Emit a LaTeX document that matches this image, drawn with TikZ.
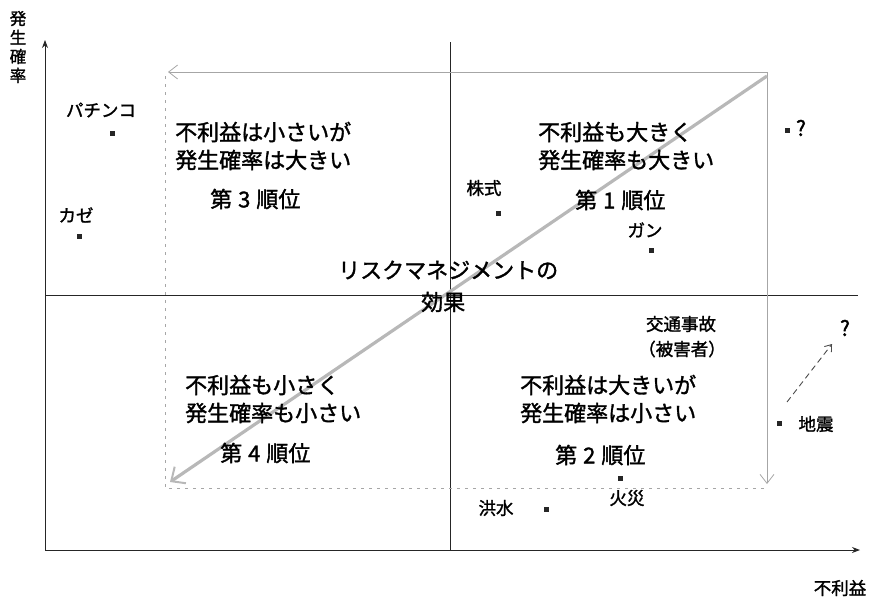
\documentclass[tikz,border=0pt]{standalone}
\usepackage{fontspec}
\newfontfamily\jpb{Noto Sans CJK JP}[FakeBold=1.5]
\usetikzlibrary{arrows.meta}
\begin{document}
\begin{tikzpicture}[x=1pt,y=-1pt,
  big/.style={font=\jpb\fontsize{22}{26}\selectfont, inner sep=0, anchor=west},
  rank/.style={font=\jpb\fontsize{22}{26}\selectfont, inner sep=0, anchor=west},
  lab/.style={font=\jpb\fontsize{17.5}{19}\selectfont, inner sep=0},
  qmark/.style={font=\jpb\fontsize{21}{22}\selectfont, inner sep=0},
  dot/.style={rectangle, fill=black!85, minimum size=5pt, inner sep=0},
  axis/.style={draw=black!85, line width=0.9pt},
  guide/.style={draw=black!35, line width=0.8pt, dash pattern=on 3pt off 5pt},
  guidearrow/.style={draw=black!35, line width=0.8pt, -{Straight Barb[length=9pt,width=14pt]}},
  effect/.style={draw=black!28, line width=3.2pt, -{Straight Barb[length=11pt,width=20pt,line width=2pt]}}
]
\useasboundingbox (0,0) rectangle (872,600);
% coordinates
\coordinate (o) at (45,550);
\coordinate (ytop) at (45,40);
\coordinate (xend) at (860,550);
\coordinate (vt) at (450,42);
\coordinate (vb) at (450,550);
\coordinate (hl) at (45,295);
\coordinate (hr) at (858,295);
\coordinate (rtr) at (767,72);
\coordinate (rtl) at (168,72);
\coordinate (rbr) at (767,484);
\coordinate (rtl2) at (165,76);
\coordinate (rbl) at (165,488);
\coordinate (rbr2) at (767,488);
\coordinate (ds) at (767,76);
\coordinate (de) at (170,482);
\coordinate (qs) at (787,402);
\coordinate (qe) at (832,344);
% axes
\draw[axis, -{Stealth[length=8pt,width=6pt]}] (o) -- (ytop);
\draw[axis, -{Stealth[length=8pt,width=6pt]}] (o) -- (xend);
\draw[axis, line width=0.7pt] (vt) -- (vb);
\draw[axis, line width=0.7pt] (hl) -- (hr);
% guide rectangle
\draw[guide] (rtl2) -- (rbl) -- (rbr2);
\draw[guidearrow] (rtr) -- (rtl);
\draw[guidearrow] (rtr) -- (rbr);
\draw[effect] (ds) -- (de);
\draw[draw=black!70, line width=0.9pt, dash pattern=on 6pt off 4pt, -{Straight Barb[length=6pt,width=9pt]}] (qs) -- (qe);
% axis labels
\node[lab, font=\jpb\fontsize{16.5}{19}\selectfont, align=center] (ylab) at (18,47) {発\\生\\確\\率};
\node[lab] (xlab) at (840,588) {不利益};
% quadrant texts
\node[big] (q3a) at (175,132) {不利益は小さいが};
\node[big] (q3b) at (175,160) {発生確率は大きい};
\node[rank] (q3c) at (210,199) {第\hspace{6pt}3\hspace{6pt}順位};
\node[big] (q1a) at (538,132) {不利益も大きく};
\node[big] (q1b) at (538,160) {発生確率も大きい};
\node[rank] (q1c) at (575,200) {第\hspace{6pt}1\hspace{6pt}順位};
\node[big] (q4a) at (185,385) {不利益も小さく};
\node[big] (q4b) at (185,413) {発生確率も小さい};
\node[rank] (q4c) at (220,453) {第\hspace{6pt}4\hspace{6pt}順位};
\node[big] (q2a) at (520,385) {不利益は大きいが};
\node[big] (q2b) at (520,413) {発生確率は小さい};
\node[rank] (q2c) at (555,455) {第\hspace{6pt}2\hspace{6pt}順位};
\node[big] (rm1) at (338,270) {リスクマネジメントの};
\node[big] (rm2) at (421,302) {効果};
% labels and points
\node[lab] (pachinko) at (101,110) {パチンコ};
\node[dot] (p1) at (112,133) {};
\node[lab] (kaze) at (76,215) {カゼ};
\node[dot] (p2) at (79,236) {};
\node[lab] (kabu) at (484,188) {株式};
\node[dot] (p3) at (498,213) {};
\node[lab] (gan) at (645,230) {ガン};
\node[dot] (p4) at (651,250) {};
\node[dot] (p5) at (787,130) {};
\node[qmark] (q1) at (801,128) {?};
\node[lab] (kotsu) at (681,324) {交通事故};
\node[lab] (higai) at (682,349) {（被害者）};
\node[qmark] (q2) at (845,328) {?};
\node[dot] (p6) at (779,423) {};
\node[lab] (jishin) at (816,424) {地震};
\node[dot] (p7) at (620,478) {};
\node[lab] (kasai) at (627,498) {火災};
\node[lab] (kozui) at (496,508) {洪水};
\node[dot] (p8) at (546,509) {};
\end{tikzpicture}
\end{document}
